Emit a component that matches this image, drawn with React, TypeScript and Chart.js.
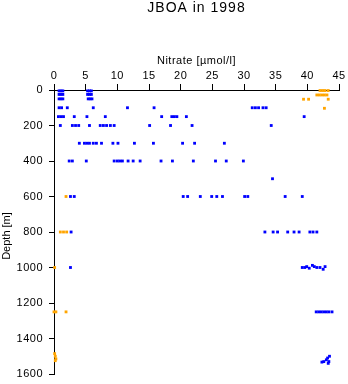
import React, { useEffect, useRef } from "react";
import { Chart, registerables } from "chart.js";

Chart.register(...registerables);

const titleText = "JBOA in 1998";
const xTitle = "Nitrate [µmol/l]";
const yTitle = "Depth [m]";
const xTicks = [0, 5, 10, 15, 20, 25, 30, 35, 40, 45];
const yTicks = [0, 200, 400, 600, 800, 1000, 1200, 1400, 1600];

const blueNitrate = [
  0.8, 1.1, 1.4, 5.3, 5.6, 5.9,
  0.8, 1.1, 1.4, 5.3, 5.6, 5.9,
  0.8, 1.1, 1.4, 5.4, 5.7, 6.0,
  0.8, 1.2, 2.1, 6.2, 11.6, 15.8, 31.3, 31.8, 32.3, 33.0, 33.5,
  0.7, 1.1, 1.5, 3.2, 5.2, 8.1, 17.0, 18.6, 19.0, 19.4, 20.9, 39.5,
  1.0, 2.9, 3.4, 3.9, 5.6, 7.3, 7.8, 8.3, 8.9, 9.5, 15.1, 18.4, 21.8, 34.3,
  4.0, 4.8, 5.2, 5.6, 6.2, 6.7, 7.5, 9.3, 10.1, 12.7, 15.7, 20.3, 22.2, 26.9,
  2.4, 2.9, 5.1, 9.5, 10.0, 10.4, 10.8, 11.7, 12.5, 13.6, 16.9, 18.7, 22.0, 25.5, 27.2, 29.9,
  34.5,
  2.6, 3.2, 20.4, 21.1, 23.1, 24.9, 25.7, 26.6, 30.1, 30.6, 36.5, 39.2,
  2.7, 33.3, 34.6, 35.3, 36.9, 37.9, 38.7, 40.4, 40.9, 41.5,
  2.6, 39.2, 39.6, 39.9, 40.3, 40.8, 41.1, 41.5, 42.0, 42.5, 42.8,
  41.4, 41.8, 42.2, 42.6, 43.0, 43.4, 43.9,
  43.5, 43.2, 43.0, 42.6, 42.3, 43.3, 43.4,
];
const blueDepth = [
  5, 5, 5, 5, 5, 5,
  25, 25, 25, 25, 25, 25,
  50, 50, 50, 50, 50, 50,
  100, 100, 100, 100, 100, 100, 100, 100, 100, 100, 100,
  150, 150, 150, 150, 150, 150, 150, 150, 150, 150, 150, 150,
  200, 200, 200, 200, 200, 200, 200, 200, 200, 200, 200, 200, 200, 200,
  300, 300, 300, 300, 300, 300, 300, 300, 300, 300, 300, 300, 300, 300,
  400, 400, 400, 400, 400, 400, 400, 400, 400, 400, 400, 400, 400, 400, 400, 400,
  500,
  600, 600, 600, 600, 600, 600, 600, 600, 600, 600, 600, 600,
  800, 800, 800, 800, 800, 800, 800, 800, 800, 800,
  1000, 1000, 1000, 995, 1004, 988, 995, 1000, 1000, 1010, 995,
  1250, 1250, 1250, 1250, 1250, 1250, 1250,
  1500, 1510, 1520, 1530, 1533, 1540, 1530,
];

const orangeNitrate = [
  42.0, 42.4, 42.8, 43.3,
  41.5, 41.9, 42.3, 42.7, 43.1,
  39.4, 40.2, 43.3,
  42.7,
  1.9,
  1.0, 1.5, 2.0,
  0.1,
  0.0, 0.3, 1.9,
  0.1, 0.2, 0.3, 0.2,
];
const orangeDepth = [
  3, 3, 3, 3,
  28, 28, 28, 28, 28,
  52, 52, 52,
  103,
  600,
  800, 800, 800,
  1000,
  1250, 1250, 1250,
  1485, 1500, 1515, 1525,
];

const FONT = "'Liberation Sans', Arial, Helvetica, sans-serif";

const textPlugin = {
  id: "texts",
  beforeDraw(chart: any) {
    (chart.ctx as any).letterSpacing = "0.5px";
  },
  afterDraw(chart: any) {
    const ctx = chart.ctx as any;
    const a = chart.chartArea;
    ctx.save();
    ctx.letterSpacing = "1px";
    ctx.font = `14px ${FONT}`;
    ctx.fillStyle = "#000";
    ctx.textAlign = "center";
    ctx.textBaseline = "middle";
    ctx.fillText(titleText, (a.left + a.right) / 2, 8);
    ctx.restore();

    ctx.save();
    ctx.letterSpacing = "0px";
    ctx.font = `11px ${FONT}`;
    ctx.fillStyle = "#000";
    ctx.textAlign = "center";
    ctx.textBaseline = "middle";
    ctx.translate(7, (a.top + a.bottom) / 2 + 4);
    ctx.rotate(-Math.PI / 2);
    ctx.fillText(yTitle, 0, 0);
    ctx.restore();
  },
};

export default function App() {
  const ref = useRef<HTMLCanvasElement | null>(null);
  useEffect(() => {
    if (!ref.current) return;
    const blue = blueNitrate.map((x, i) => ({ x, y: blueDepth[i] }));
    const orange = orangeNitrate.map((x, i) => ({ x, y: orangeDepth[i] }));
    const chart = new Chart(ref.current, {
      type: "scatter",
      data: {
        datasets: [
          {
            data: blue,
            backgroundColor: "#0000ff",
            borderWidth: 0,
            pointStyle: "rect",
            pointRadius: 2,
            clip: false as any,
          },
          {
            data: orange,
            backgroundColor: "#ffa500",
            borderWidth: 0,
            pointStyle: "rect",
            pointRadius: 2,
            clip: false as any,
          },
        ],
      },
      plugins: [textPlugin],
      options: {
        responsive: false,
        animation: false,
        devicePixelRatio: 1,
        layout: { padding: { left: 0, right: 9, top: 20, bottom: 10 } },
        plugins: {
          legend: { display: false },
          tooltip: { enabled: false },
          title: { display: false },
        },
        scales: {
          x: {
            type: "linear",
            position: "top",
            min: 0,
            max: 45,
            afterBuildTicks: (s: any) => {
              s.ticks = xTicks.map((v) => ({ value: v }));
            },
            ticks: {
              color: "#000",
              font: { family: FONT, size: 11 },
              padding: 1,
              maxRotation: 0,
              autoSkip: false,
              callback: (v: any) => String(v),
            },
            grid: {
              drawOnChartArea: false,
              tickLength: 6,
              tickColor: "#000",
            },
            border: { color: "#000", width: 1 },
            title: {
              display: true,
              text: xTitle,
              color: "#000",
              font: { family: FONT, size: 11 },
              padding: { top: 34, bottom: 0 },
            },
            afterFit: (s: any) => {
              s.height = 70;
              s.paddingLeft = 0;
              s.paddingRight = 0;
            },
          },
          y: {
            type: "linear",
            reverse: true,
            min: 0,
            max: 1600,
            afterBuildTicks: (s: any) => {
              s.ticks = yTicks.map((v) => ({ value: v }));
            },
            ticks: {
              color: "#000",
              font: { family: FONT, size: 11 },
              padding: 6,
              autoSkip: false,
              callback: (v: any) => String(v),
            },
            grid: {
              drawOnChartArea: false,
              tickLength: 5,
              tickColor: "#000",
            },
            border: { color: "#000", width: 1 },
            title: { display: false },
            afterFit: (s: any) => {
              s.width = 54;
              s.paddingTop = 0;
              s.paddingBottom = 0;
            },
          },
        },
      },
    });
    return () => chart.destroy();
  }, []);
  return (
    <div style={{ position: "absolute", left: 0, top: 0, width: 348, height: 384, background: "#fff" }}>
      <canvas ref={ref} width={348} height={384} />
    </div>
  );
}
